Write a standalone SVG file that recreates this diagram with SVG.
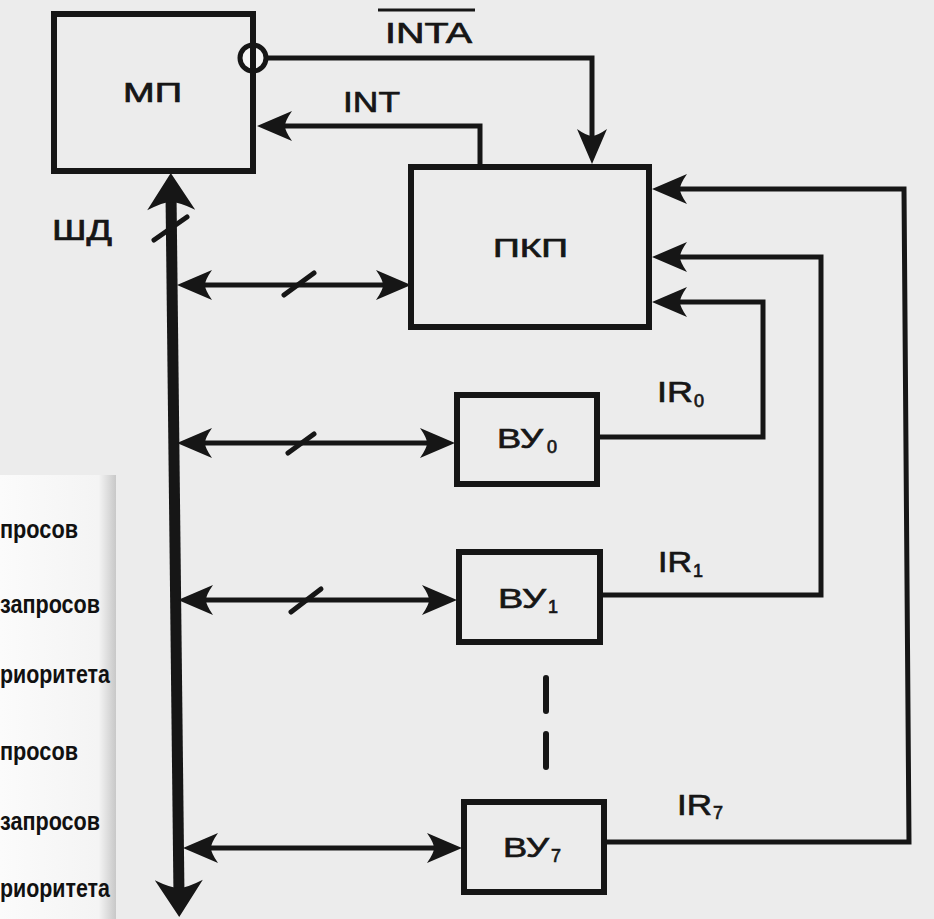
<svg xmlns="http://www.w3.org/2000/svg" width="934" height="919" viewBox="0 0 934 919">
<style>
  .box { fill: none; stroke: #161616; stroke-width: 6; }
  .wire { fill: none; stroke: #161616; stroke-width: 5; }
  .bus { fill: none; stroke: #161616; stroke-width: 11; }
  .tick { stroke: #161616; stroke-width: 5; stroke-linecap: round; }
  .dash { stroke: #161616; stroke-width: 6; stroke-linecap: round; }
  .lbl { font-family: "Liberation Sans", Arial, sans-serif; fill: #161616; stroke: #161616; stroke-width: 0.7; }
  .side { font-family: "Liberation Sans", Arial, sans-serif; font-weight: bold; fill: #111; font-size: 25px; }
</style>
<defs>
  <marker id="arr" viewBox="-38 -17 40 34" refX="-18" refY="0" markerWidth="40" markerHeight="34" markerUnits="userSpaceOnUse" orient="auto-start-reverse">
    <path d="M0,0 L-35,-15 Q-28,-5 -28,0 Q-28,5 -35,15 Z" fill="#161616"/>
  </marker>
  <marker id="busarr" viewBox="-40 -26 42 52" refX="-20" refY="0" markerWidth="42" markerHeight="52" markerUnits="userSpaceOnUse" orient="auto-start-reverse">
    <path d="M0,0 L-37,-24 Q-29,-8 -29,0 Q-29,8 -37,24 Z" fill="#161616"/>
  </marker>
  <linearGradient id="patchEdge" x1="0" y1="0" x2="1" y2="0">
    <stop offset="0" stop-color="#fbfbfb"/>
    <stop offset="0.85" stop-color="#f4f4f4"/>
    <stop offset="1" stop-color="#c8c8c8"/>
  </linearGradient>
</defs>

<rect x="0" y="0" width="934" height="919" fill="#ececec"/>

<!-- left pasted strip -->
<g id="side-strip">
  <rect x="0" y="475" width="116" height="444" fill="url(#patchEdge)"/>
  <text class="side" x="0" y="538" textLength="78" lengthAdjust="spacingAndGlyphs">просов</text>
  <text class="side" x="0" y="613" textLength="100" lengthAdjust="spacingAndGlyphs">запросов</text>
  <text class="side" x="0" y="683" textLength="110" lengthAdjust="spacingAndGlyphs">риоритета</text>
  <text class="side" x="0" y="760" textLength="78" lengthAdjust="spacingAndGlyphs">просов</text>
  <text class="side" x="0" y="830" textLength="100" lengthAdjust="spacingAndGlyphs">запросов</text>
  <text class="side" x="0" y="897" textLength="110" lengthAdjust="spacingAndGlyphs">риоритета</text>
</g>

<g id="connectors">
  <!-- data bus -->
  <line class="bus" x1="171" y1="193" x2="179" y2="897" marker-start="url(#busarr)" marker-end="url(#busarr)"/>
  <line class="tick" x1="154" y1="240" x2="187" y2="217"/>
  <text class="lbl" x="52" y="240" font-size="30" textLength="60" lengthAdjust="spacingAndGlyphs">ШД</text>

  <!-- bus <-> ПКП -->
  <line class="wire" x1="195" y1="285" x2="393" y2="285" marker-start="url(#arr)" marker-end="url(#arr)"/>
  <line class="tick" x1="284" y1="295" x2="314" y2="273"/>
  <!-- bus <-> ВУ0 -->
  <line class="wire" x1="195" y1="443" x2="437" y2="443" marker-start="url(#arr)" marker-end="url(#arr)"/>
  <line class="tick" x1="288" y1="453" x2="314" y2="434"/>
  <!-- bus <-> ВУ1 -->
  <line class="wire" x1="196" y1="600" x2="439" y2="600" marker-start="url(#arr)" marker-end="url(#arr)"/>
  <line class="tick" x1="291" y1="612" x2="321" y2="589"/>
  <!-- bus <-> ВУ7 -->
  <line class="wire" x1="201" y1="848" x2="444" y2="848" marker-start="url(#arr)" marker-end="url(#arr)"/>

  <!-- INTA -->
  <polyline class="wire" points="267,58 592,58 592,146" marker-end="url(#arr)"/>
  <circle cx="253" cy="58" r="13" fill="#f4f4f4" stroke="#161616" stroke-width="5"/>
  <line x1="378" y1="10" x2="475" y2="10" stroke="#161616" stroke-width="3"/>
  <text class="lbl" x="385" y="43" font-size="30" textLength="87" lengthAdjust="spacingAndGlyphs">INTA</text>

  <!-- INT -->
  <polyline class="wire" points="480,167 480,126 275,126" marker-end="url(#arr)"/>
  <text class="lbl" x="343" y="112" font-size="30" textLength="57" lengthAdjust="spacingAndGlyphs">INT</text>

  <!-- IR0 -->
  <polyline class="wire" points="597,437 763,437 763,302 670,302" marker-end="url(#arr)"/>
  <text class="lbl" x="657" y="402" font-size="30" textLength="36" lengthAdjust="spacingAndGlyphs">IR</text>
  <text class="lbl" x="694" y="407" font-size="18">0</text>
  <!-- IR1 -->
  <polyline class="wire" points="600,595 821,595 821,257 670,257" marker-end="url(#arr)"/>
  <text class="lbl" x="658" y="572" font-size="30" textLength="34" lengthAdjust="spacingAndGlyphs">IR</text>
  <text class="lbl" x="693" y="577" font-size="18">1</text>
  <!-- IR7 -->
  <polyline class="wire" points="604,842 909,842 904,189 670,189" marker-end="url(#arr)"/>
  <text class="lbl" x="677" y="815" font-size="30" textLength="35" lengthAdjust="spacingAndGlyphs">IR</text>
  <text class="lbl" x="713" y="819" font-size="18">7</text>

  <!-- ellipsis dashes -->
  <line class="dash" x1="546" y1="678" x2="546" y2="711"/>
  <line class="dash" x1="546" y1="734" x2="546" y2="767"/>
</g>

<g id="mp">
  <rect class="box" x="54" y="14" width="199" height="157"/>
  <text class="lbl" x="123" y="102" font-size="28" textLength="59" lengthAdjust="spacingAndGlyphs">МП</text>
</g>

<g id="pkp">
  <rect class="box" x="411" y="167" width="238" height="160"/>
  <text class="lbl" x="493" y="257" font-size="26" textLength="75" lengthAdjust="spacingAndGlyphs">ПКП</text>
</g>

<g id="vu0">
  <rect class="box" x="457" y="395" width="140" height="89"/>
  <text class="lbl" x="497" y="448" font-size="28" textLength="46" lengthAdjust="spacingAndGlyphs">ВУ</text>
  <text class="lbl" x="547" y="453" font-size="18">0</text>
</g>

<g id="vu1">
  <rect class="box" x="459" y="552" width="141" height="90"/>
  <text class="lbl" x="498" y="608" font-size="28" textLength="48" lengthAdjust="spacingAndGlyphs">ВУ</text>
  <text class="lbl" x="548" y="613" font-size="18">1</text>
</g>

<g id="vu7">
  <rect class="box" x="464" y="802" width="140" height="90"/>
  <text class="lbl" x="503" y="857" font-size="28" textLength="46" lengthAdjust="spacingAndGlyphs">ВУ</text>
  <text class="lbl" x="551" y="862" font-size="18">7</text>
</g>
</svg>
